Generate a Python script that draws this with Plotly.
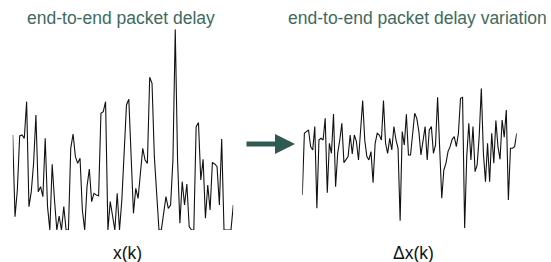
import plotly.graph_objects as go

# Left panel: end-to-end packet delay x(k) (arbitrary units)
delay = [285, 40, 120, 282, 285, 275, 385, 70, 115, 200, 345, 115, 130, 100, 275, 70, 0, 197, 90, 0,
         42, 0, 70, 0, 0, 245, 288, 220, 200, 215, 60, 0, 130, 183, 85, 110, 105, 103, 350, 355,
         385, 0, 85, 40, 0, 110, 0, 90, 240, 375, 392, 195, 50, 125, 95, 170, 245, 210, 200, 458,
         440, 220, 90, 0, 0, 50, 100, 65, 75, 210, 602, 210, 20, 145, 75, 138, 10, 0, 0, 310,
         322, 150, 212, 35, 135, 60, 202, 198, 190, 75, 273, 0, 0, 0, 0, 75]
k_delay = list(range(len(delay)))

# Right panel: end-to-end packet delay variation Δx(k)
variation = [-155, 30, 35, 40, -10, -20, 50, -195, 10, 15, 10, 75, -148, 0, -30, 88, -130, -30, 10, 60,
             -58, -50, -40, 25, -32, 25, 5, -50, 30, 128, 10, -40, -50, -25, -118, 0, 30, 25, 10, 128,
             0, -30, 15, -20, 50, 10, -15, -232, 35, -5, 87, -35, -35, 30, 90, 75, 35, -35, 15, 50,
             -50, 40, 50, -30, -5, 138, -15, -165, -80, -60, -25, -10, 12, 20, -10, 30, 135, 138, -255, -40,
             60, -50, 50, -85, -65, 23, 165, -30, -115, 0, -115, 30, -60, 68, -10, -48, 70, 18, 100, -170,
             -15, -15, -10, 30]
k_var = list(range(len(variation)))

titles = ["end-to-end packet delay", "end-to-end packet delay variation"]
labels = ["x(k)", "\u0394x(k)"]

W, H = 551, 262
TEAL = "#3e6a61"
FONT = "Liberation Sans, Arial, sans-serif"

fig = go.Figure()
fig.add_trace(go.Scatter(x=k_delay, y=delay, mode="lines", xaxis="x", yaxis="y",
                         line=dict(color="#111111", width=1.1), hoverinfo="skip"))
fig.add_trace(go.Scatter(x=k_var, y=variation, mode="lines", xaxis="x2", yaxis="y2",
                         line=dict(color="#111111", width=1.1), hoverinfo="skip"))

hidden = dict(visible=False, showgrid=False, zeroline=False, fixedrange=True)
fig.update_layout(
    width=W, height=H, autosize=False,
    margin=dict(l=0, r=0, t=0, b=0),
    paper_bgcolor="white", plot_bgcolor="rgba(0,0,0,0)",
    showlegend=False,
    xaxis=dict(domain=[12.7 / W, 233.3 / W], range=[0, len(delay) - 1], **hidden),
    yaxis=dict(domain=[(H - 230) / H, (H - 29.3) / H], range=[0, 602], **hidden),
    xaxis2=dict(domain=[302.3 / W, 516.7 / W], range=[0, len(variation) - 1], anchor="y2", **hidden),
    yaxis2=dict(domain=[(H - 228.3) / H, (H - 88.3) / H], range=[-255, 165], anchor="x2", **hidden),
)

ann = []
ann.append(dict(text=titles[0], x=121 / W, y=(H - 17.5) / H, xref="paper", yref="paper",
                showarrow=False, xanchor="center", yanchor="middle",
                font=dict(family=FONT, size=17.5, color=TEAL)))
ann.append(dict(text=titles[1], x=417.5 / W, y=(H - 17.5) / H, xref="paper", yref="paper",
                showarrow=False, xanchor="center", yanchor="middle",
                font=dict(family=FONT, size=17.5, color=TEAL)))
ann.append(dict(text=labels[0], x=127 / W, y=(H - 253) / H, xref="paper", yref="paper",
                showarrow=False, xanchor="center", yanchor="middle",
                font=dict(family=FONT, size=17.5, color="#111111")))
ann.append(dict(text=labels[1], x=413.7 / W, y=(H - 253) / H, xref="paper", yref="paper",
                showarrow=False, xanchor="center", yanchor="middle",
                font=dict(family=FONT, size=17.5, color="#111111")))
# arrow between the panels
ann.append(dict(text="", x=295 / W, y=(H - 144) / H, xref="paper", yref="paper",
                ax=-50, ay=0, axref="pixel", ayref="pixel", showarrow=True,
                arrowhead=2, arrowsize=0.8, arrowwidth=5, arrowcolor="#2f5a51", standoff=0))
fig.update_layout(annotations=ann)

fig.write_html("out.html", config=dict(displayModeBar=False),
               post_script="document.body.style.margin='0';document.body.style.overflow='hidden';")
